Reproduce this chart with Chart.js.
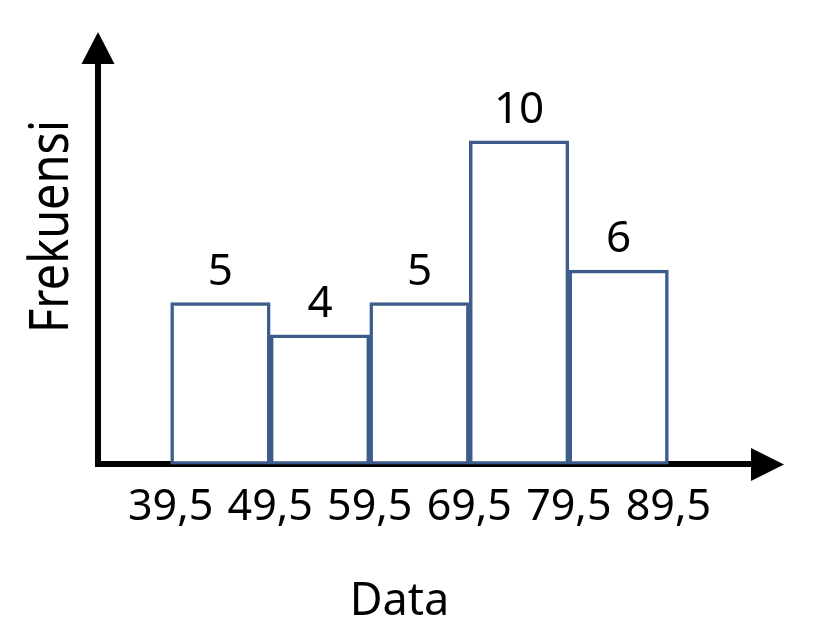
<!DOCTYPE html>
<html>
<head>
<meta charset="utf-8">
<script src="https://cdn.jsdelivr.net/npm/chart.js@4.4.0/dist/chart.umd.min.js"></script>
<style>
  html, body { margin: 0; padding: 0; background: #fff; }
  .chart { width: 824px; height: 633px; }
</style>
</head>
<body>
<div class="chart">
  <canvas id="myChart"></canvas>
</div>
<script>
  // data histogram: titik tengah kelas, frekuensi, batas kelas
  const classMids = [44.5, 54.5, 64.5, 74.5, 84.5];
  const frekuensi = [5, 4, 5, 10, 6];
  const tickEdges = [39.5, 49.5, 59.5, 69.5, 79.5, 89.5];

  const barColor = '#3d5c8c';

  // panah sumbu + label nilai + judul sumbu
  const histoPlugin = {
    id: 'histoPlugin',
    afterDraw(chart) {
      const ctx = chart.ctx;
      const area = chart.chartArea;
      ctx.save();
      ctx.fillStyle = '#000';

      // panah sumbu y
      ctx.beginPath();
      ctx.moveTo(area.left, area.top - 32);
      ctx.lineTo(area.left - 16.5, area.top);
      ctx.lineTo(area.left + 16.5, area.top);
      ctx.closePath();
      ctx.fill();

      // panah sumbu x
      ctx.beginPath();
      ctx.moveTo(area.right + 33, area.bottom);
      ctx.lineTo(area.right, area.bottom - 16.5);
      ctx.lineTo(area.right, area.bottom + 16.5);
      ctx.closePath();
      ctx.fill();

      // label frekuensi di atas batang
      ctx.font = '44px "Noto Sans"';
      ctx.textAlign = 'center';
      ctx.textBaseline = 'alphabetic';
      const meta = chart.getDatasetMeta(0);
      meta.data.forEach((bar, i) => {
        ctx.fillText(String(frekuensi[i]), bar.x, bar.y - 18);
      });

      // judul sumbu x
      ctx.font = '45px "Noto Sans"';
      ctx.fillText('Data', 399.5, 615);

      // judul sumbu y (diputar)
      ctx.translate(68, 226.5);
      ctx.rotate(-Math.PI / 2);
      ctx.font = '54px "Noto Sans"';
      ctx.fillText('Frekuensi', 0, 0, 213);
      ctx.restore();
    }
  };

  const ctx = document.getElementById('myChart').getContext('2d');

  const myChart = new Chart(ctx, {
    type: 'bar',
    data: {
      datasets: [{
        label: 'Frekuensi',
        data: classMids.map((m, i) => ({ x: m, y: frekuensi[i] })),
        backgroundColor: '#ffffff',
        borderColor: barColor,
        borderWidth: 3.5,
        borderSkipped: false,
        barPercentage: 1,
        categoryPercentage: 1
      }]
    },
    options: {
      responsive: true,
      maintainAspectRatio: false,
      animation: false,
      layout: {
        padding: { left: 98, right: 73, top: 64, bottom: 81 }
      },
      plugins: {
        legend: { display: false },
        tooltip: { enabled: false }
      },
      scales: {
        x: {
          type: 'linear',
          offset: false,
          min: 32.2,
          max: 97.8,
          grid: { display: false, drawTicks: false },
          border: { display: true, color: '#000', width: 6 },
          afterBuildTicks: axis => {
            axis.ticks = tickEdges.map(v => ({ value: v }));
          },
          ticks: {
            autoSkip: false,
            maxRotation: 0,
            padding: 18,
            color: '#000',
            font: { family: 'Noto Sans', size: 43 },
            callback: v => String(v).replace('.', ',')
          }
        },
        y: {
          min: 0,
          max: 12.37,
          grid: { display: false, drawTicks: false },
          border: { display: true, color: '#000', width: 6 },
          ticks: { display: false }
        }
      }
    },
    plugins: [histoPlugin]
  });
</script>
</body>
</html>
